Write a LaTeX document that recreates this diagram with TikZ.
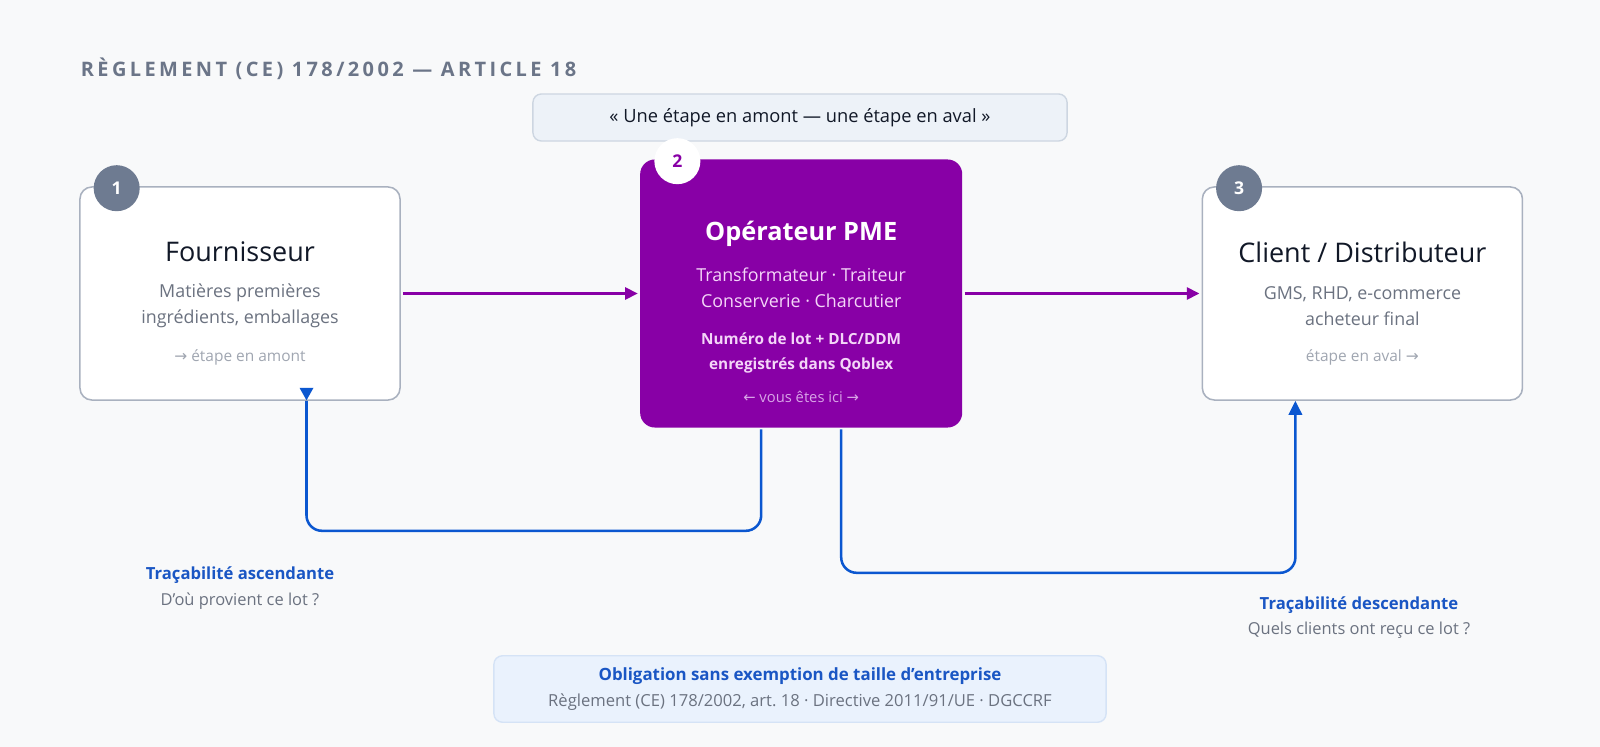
\documentclass[tikz,border=0pt]{standalone}
\usepackage{fontspec}
\setmainfont{Open Sans}
\newfontfamily\arrowfont{DejaVu Sans}
\usepackage{xcolor}
\usetikzlibrary{arrows.meta,positioning,calc}

\newcommand{\toright}{{\arrowfont →}}
\newcommand{\toleft}{{\arrowfont ←}}
\newcommand{\apos}{\char"0027\relax}

\definecolor{bgpage}{HTML}{F8F9FA}
\definecolor{headgrey}{HTML}{6B7588}
\definecolor{boxline}{HTML}{A9B1BF}
\definecolor{badgegrey}{HTML}{6E7B91}
\definecolor{ink}{HTML}{111827}
\definecolor{subgrey}{HTML}{6B7280}
\definecolor{hintgrey}{HTML}{A0A6B1}
\definecolor{opviolet}{HTML}{8800A6}
\definecolor{oppink}{HTML}{F4D6F8}
\definecolor{oplilac}{HTML}{D8A4E7}
\definecolor{traceblue}{HTML}{0B57D0}
\definecolor{labelblue}{HTML}{1A56C4}
\definecolor{quotefill}{HTML}{EDF2F8}
\definecolor{quoteline}{HTML}{CDD6E1}
\definecolor{notefill}{HTML}{EAF2FD}
\definecolor{noteline}{HTML}{D5E3F6}

\begin{document}
\begin{tikzpicture}[
x=0.025cm, y=-0.025cm,
box/.style={rectangle, draw=boxline, line width=1.1pt, fill=white, rounded corners=8.5pt, minimum width=8cm, minimum height=5.325cm},
opbox/.style={rectangle, fill=opviolet, rounded corners=10.5pt, minimum width=8.05cm, minimum height=6.7cm},
badge/.style={circle, fill=badgegrey, text=white, minimum size=1.15cm, inner sep=0pt, font=\fontsize{12.5}{14}\selectfont\bfseries},
title/.style={inner sep=0pt, text=ink, font=\fontsize{19.2}{23}\selectfont},
sub/.style={inner sep=0pt, text=subgrey, align=center, font=\fontsize{12.7}{18.5}\selectfont},
hint/.style={inner sep=0pt, text=hintgrey, font=\fontsize{11}{13}\selectfont},
flow/.style={-{Triangle[length=9pt,width=8.5pt]}, draw=opviolet, line width=2.1pt, shorten <=1.5pt, shorten >=1.5pt},
trace/.style={draw=traceblue, line width=1.8pt, rounded corners=11pt},
tlabel/.style={inner sep=0pt, text=labelblue, font=\fontsize{11.85}{14}\selectfont\bfseries},
tquest/.style={inner sep=0pt, text=subgrey, font=\fontsize{11.7}{14}\selectfont}
]
\useasboundingbox (0,0) rectangle (1600,747);
\fill[bgpage] (0,0) rectangle (1600,747);

% Heading and motto
\node[anchor=west, inner sep=0pt, text=headgrey, font=\fontsize{14.2}{16}\selectfont\bfseries\addfontfeature{LetterSpace=17}] (head) at (80.6,68.4) {RÈGLEMENT (CE) 178/2002 — ARTICLE 18};
\node[rectangle, draw=quoteline, line width=1pt, fill=quotefill, rounded corners=6pt, minimum width=13.35cm, minimum height=1.175cm, text=ink, font=\fontsize{13}{15}\selectfont] (motto) at (800,117.5) {« Une étape en amont — une étape en aval »};

% Chain of operators
\node[box] (sup) at (240,293.5) {};
\node[opbox, right=5.975cm of sup] (op) {};
\node[box, right=5.975cm of op] (cli) {};

\node[badge] (n1) at ($(sup.north west)+(37.5,2)$) {1};
\node[badge, fill=white, text=opviolet] (n2) at ($(op.north west)+(37.5,2)$) {2};
\node[badge] (n3) at ($(cli.north west)+(37.5,2)$) {3};

% Texts
\node[title] (supname) at ($(sup)+(0,-41.5)$) {Fournisseur};
\node[sub] (supwhat) at ($(sup)+(0,12.7)$) {Matières premières\\ingrédients, emballages};
\node[hint] (supstep) at ($(sup)+(0,63.5)$) {\toright{} étape en amont};

\node[title, text=white, font=\fontsize{18}{22}\selectfont\bfseries] (opname) at ($(op)+(0,-60)$) {Opérateur PME};
\node[sub, text=oppink] (opwhat) at ($(op)+(0,-5.8)$) {Transformateur · Traiteur\\Conserverie · Charcutier};
\node[sub, text=oppink, font=\fontsize{10.9}{17.8}\selectfont\bfseries] (oplot) at ($(op)+(0,59)$) {Numéro de lot + DLC/DDM\\enregistrés dans Qoblex};
\node[hint, text=oplilac, font=\fontsize{10.5}{13}\selectfont] (ophere) at ($(op)+(0,103.5)$) {\toleft{} vous êtes ici \toright};

\node[title] (cliname) at ($(cli)+(0,-41.5)$) {Client / Distributeur};
\node[sub] (cliwhat) at ($(cli)+(0,12.7)$) {GMS, RHD, e-commerce\\acheteur final};
\node[hint] (clistep) at ($(cli)+(0,63.5)$) {étape en aval \toright};

% Arrows
\draw[flow] (sup.east) -- (op.west);
\draw[flow] (op.east) -- (cli.west);

\draw[trace] ($(op.south)+(-40,1.5)$) -- ++(0,101.5) -| ($(sup.south)+(66.5,0)$);
\fill[traceblue] ($(sup.south)+(66.5,-0.5)$) -- ++(-7,-12.5) -- ++(14,0) -- cycle;
\draw[trace, -{Triangle[length=10pt,width=9.5pt]}] ($(op.south)+(40,1.5)$) -- ++(0,143.5) -| ($(cli.south)+(-67,0)$);

% Labels
\node[tlabel] (asc) at (240,575.5) {Traçabilité ascendante};
\node[tquest] (ascq) at ($(asc)+(0,25.5)$) {D\apos où provient ce lot ?};
\node[tlabel] (desc) at (1359,605) {Traçabilité descendante};
\node[tquest] (descq) at ($(desc)+(0,25.6)$) {Quels clients ont reçu ce lot ?};

\node[rectangle, draw=noteline, line width=1pt, fill=notefill, rounded corners=6pt, minimum width=15.3cm, minimum height=1.66cm, align=center, font=\fontsize{11.8}{18.1}\selectfont] (oblig) at (800,689) {{\color{labelblue}\bfseries\fontsize{12}{14}\selectfont Obligation sans exemption de taille d\apos entreprise}\\{\color{subgrey}Règlement (CE) 178/2002, art.~18 · Directive 2011/91/UE · DGCCRF}};

\end{tikzpicture}
\end{document}
